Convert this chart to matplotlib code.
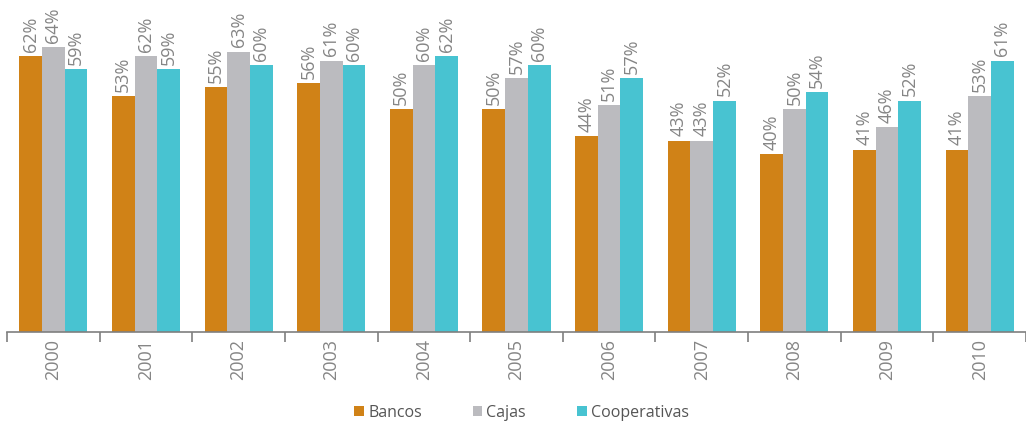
import numpy as np
import matplotlib
matplotlib.use('Agg')
import matplotlib.pyplot as plt

years = ['2000', '2001', '2002', '2003', '2004', '2005', '2006', '2007', '2008', '2009', '2010']
bancos = [62, 53, 55, 56, 50, 50, 44, 43, 40, 41, 41]
cajas = [64, 62, 63, 61, 60, 57, 51, 43, 50, 46, 53]
cooperativas = [59, 59, 60, 60, 62, 60, 57, 52, 54, 52, 61]

series = [('Bancos', bancos, '#d08217'),
          ('Cajas', cajas, '#bbbbbf'),
          ('Cooperativas', cooperativas, '#48c3d1')]

plt.rcParams['font.family'] = ['Open Sans', 'DejaVu Sans']
grey = '#7f7f7f'

fig = plt.figure(figsize=(10.26, 4.23), dpi=100)
ax = fig.add_axes([7 / 1026, 91 / 423, 1019 / 1026, 332 / 423])

x = np.arange(len(years))
w = 0.245
for i, (name, vals, col) in enumerate(series):
    pos = x + (i - 1) * w
    ax.bar(pos, vals, width=w, color=col, label=name, linewidth=0)
    for p, v in zip(pos, vals):
        ax.annotate(f'{v}%', (p, v), xytext=(0, 3), textcoords='offset points',
                    rotation=90, ha='center', va='bottom', color='#858585',
                    fontsize=13)

ax.set_xlim(-0.5, len(years) - 0.5)
ax.set_ylim(0, 74.6)
ax.set_yticks([])
for s in ['top', 'right', 'left']:
    ax.spines[s].set_visible(False)
ax.spines['bottom'].set_color(grey)
ax.spines['bottom'].set_linewidth(1.2)

ax.set_xticks(np.arange(len(years) + 1) - 0.5)
ax.set_xticklabels([])
ax.set_xticks(x, minor=True)
ax.set_xticklabels(years, minor=True, rotation=90, color='#858585', fontsize=13)
ax.tick_params(axis='x', which='major', length=7, color=grey, width=1.2)
ax.tick_params(axis='x', which='minor', length=0, pad=5)

ax.legend(loc='lower center', bbox_to_anchor=(0.505, -0.31), ncol=3, frameon=False,
          handlelength=0.6, handleheight=0.6, columnspacing=3.2, handletextpad=0.25,
          labelcolor='#555555', fontsize=11.5)

fig.savefig('out.png', dpi=100)
